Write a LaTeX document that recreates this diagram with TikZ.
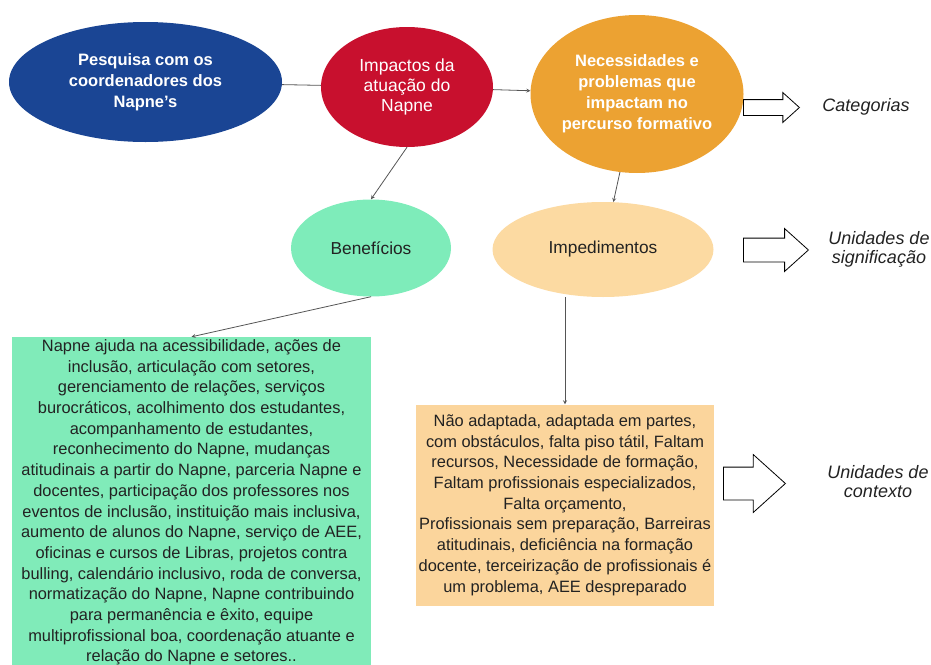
\documentclass[tikz,border=0pt]{standalone}
\usepackage{fontspec}
\setmainfont{Liberation Sans}
\usetikzlibrary{shapes.geometric,shapes.arrows}
\definecolor{napneblue}{HTML}{1A4594}
\definecolor{napnered}{HTML}{C8102E}
\definecolor{napneorange}{HTML}{ECA232}
\definecolor{napnegreen}{HTML}{7EECBA}
\definecolor{napnepeach}{HTML}{FCDAA2}
\definecolor{boxgreen}{HTML}{80EBB9}
\definecolor{boxpeach}{HTML}{FBD59C}
\definecolor{inkgray}{HTML}{222222}
\definecolor{linegray}{HTML}{555555}
\tikzset{node distance=2cm, auto, >=stealth}
\tikzset{
  bubble/.style={ellipse, inner sep=0pt, align=center},
  textbox/.style={rectangle, inner sep=0pt, align=center, text=inkgray,
    font=\fontsize{16.4}{20.7}\selectfont},
  blockarrow/.style={single arrow, draw=black, fill=white, line width=0.8pt,
    inner xsep=0pt, single arrow tip angle=84, anchor=tail},
  unitlabel/.style={align=center, text=inkgray,
    font=\fontsize{18}{19}\selectfont\itshape},
  link/.style={draw=linegray, line width=0.8pt}
}

\begin{document}
\begin{tikzpicture}[x=1pt, y=1pt]
  \useasboundingbox (0,0) rectangle (931,-664);
  \node (pesq) [bubble, fill=napneblue, text=white, minimum width=273pt, minimum height=120pt,
    font=\fontsize{16.5}{21}\selectfont\bfseries] at (145.5,-82)
    {Pesquisa com os\\coordenadores dos\\Napne's};
  \node (impact) [bubble, fill=napnered, text=white, minimum width=172pt, minimum height=120pt,
    font=\fontsize{17.5}{20}\selectfont, node distance=261.5pt, right of=pesq, yshift=-5pt]
    {Impactos da\\atuação do\\Napne};
  \node (necess) [bubble, fill=napneorange, text=white, minimum width=213pt, minimum height=158pt,
    font=\fontsize{16.5}{21}\selectfont\bfseries, node distance=230pt, right of=impact, yshift=-7pt]
    {Necessidades e\\problemas que\\impactam no\\percurso formativo};
  \node (benef) [bubble, fill=napnegreen, text=inkgray, minimum width=160pt, minimum height=97pt,
    font=\fontsize{17.3}{20}\selectfont, node distance=161pt, below of=impact, xshift=-36pt]
    {Benefícios};
  \node (imped) [bubble, fill=napnepeach, text=inkgray, minimum width=221pt, minimum height=95pt,
    font=\fontsize{17.3}{20}\selectfont, node distance=155.5pt, below of=necess, xshift=-34pt]
    {Impedimentos};
  \node (boxben) [textbox, fill=boxgreen, minimum width=359pt, minimum height=331pt,
    node distance=254.5pt, below of=benef, xshift=-179.5pt]
    {Napne ajuda na acessibilidade, ações de\\
     inclusão, articulação com setores,\\
     gerenciamento de relações, serviços\\
     burocráticos, acolhimento dos estudantes,\\
     acompanhamento de estudantes,\\
     reconhecimento do Napne, mudanças\\
     atitudinais a partir do Napne, parceria Napne e\\
     docentes, participação dos professores nos\\
     eventos de inclusão, instituição mais inclusiva,\\
     aumento de alunos do Napne, serviço de AEE,\\
     oficinas e cursos de Libras, projetos contra\\
     bulling, calendário inclusivo, roda de conversa,\\
     normatização do Napne, Napne contribuindo\\
     para permanência e êxito, equipe\\
     multiprofissional boa, coordenação atuante e\\
     relação do Napne e setores..};
  \node (boximp) [textbox, fill=boxpeach, minimum width=298pt, minimum height=201pt,
    node distance=255.5pt, below of=imped, xshift=-38pt]
    {Não adaptada, adaptada em partes,\\
     com obstáculos, falta piso tátil, Faltam\\
     recursos, Necessidade de formação,\\
     Faltam profissionais especializados,\\
     Falta orçamento,\\
     Profissionais sem preparação, Barreiras\\
     atitudinais, deficiência na formação\\
     docente, terceirização de profissionais é\\
     um problema, AEE despreparado};
  % arrows to the right, with their labels
  \node (catarrow) [blockarrow, minimum height=56pt, inner ysep=7.5pt,
    single arrow head extend=7pt] at (743,-107.5) {};
  \node (sigarrow) [blockarrow, minimum height=65pt, inner ysep=11.5pt,
    single arrow head extend=9.5pt] at (743,-250) {};
  \node (ctxarrow) [blockarrow, minimum height=62pt, inner ysep=16pt,
    single arrow head extend=12.5pt] at (723,-483.5) {};
  \node (cat) [unitlabel] at (866,-107) {Categorias};
  \node (sig) [unitlabel] at (879,-249) {Unidades de\\significação};
  \node (ctx) [unitlabel] at (878,-482) {Unidades de\\contexto};
  \draw[link] (pesq) to (impact);
  \draw[link, ->] (impact) to (necess);
  \draw[link, ->] (impact.south) to (benef.north);
  \draw[link, ->] (necess) to (imped);
  \draw[link, ->] (benef.south) to (boxben.north);
  \draw[link, ->] (boximp.north |- imped.south) to (boximp.north);
\end{tikzpicture}
\end{document}
